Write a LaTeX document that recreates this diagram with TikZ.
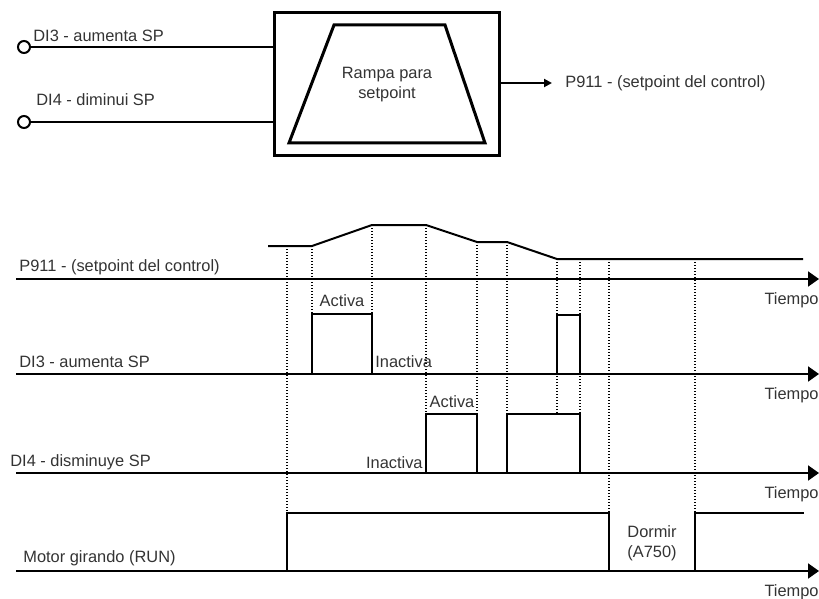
\documentclass[tikz,border=0pt]{standalone}
\usepackage{fontspec}
\setmainfont{Liberation Sans}
\usetikzlibrary{arrows.meta, positioning, calc}
\definecolor{textgrau}{HTML}{333333}

\begin{document}
\begin{tikzpicture}[x=0.5pt, y=-0.5pt,
    txt/.style={font=\fontsize{8.2}{10}\selectfont, text=textgrau, inner sep=0pt},
    signal/.style={line width=1pt, line join=miter},
    rahmen/.style={line width=1.5pt, line join=miter},
    hilfslinie/.style={line width=0.9pt, dash pattern=on 0.7pt off 0.8pt},
    zeitachse/.style={line width=1pt, -{Triangle[length=5.5pt, width=7.5pt]}},
    eingang/.style={circle, draw, line width=1pt, minimum size=6pt, inner sep=0pt}]
        \useasboundingbox (0,0) rectangle (819,599);
        % Blockschaltbild oben
        \node[rahmen, draw, minimum width=112.5pt, minimum height=71pt] (block) at (386.5,84) {};
        \draw[rahmen] (334,25) -- (445,25) -- (485,143) -- (289,143) -- cycle;
        \node[txt, align=center] (rampe) at (387,85) {Rampa para\\setpoint};
        \node[eingang] (di3) at (24,47) {};
        \node[eingang] (di4) at (24,122) {};
        \draw[signal] (di3.east) -- (di3.east -| block.west);
        \draw[signal] (di4.east) -- (di4.east -| block.west);
        \node[txt, anchor=base west] (di3text) at (33,42) {DI3 - aumenta SP};
        \node[txt, anchor=base west] (di4text) at (36,105) {DI4 - diminui SP};
        \node[txt, anchor=west, inner xsep=6.5pt] (ausgang) at (552,83) {P911 - (setpoint del control)};
        \draw[signal, -{Triangle[length=4pt, width=4pt]}] (block.east |- ausgang.west) -- (ausgang.west);
        % Zeitachsen
        \foreach \y in {279, 374, 473, 571}{
          \draw[zeitachse] (16,\y) -- (819,\y);
          \node[txt, anchor=base east] (tiempo\y) at (819,\y+25) {Tiempo};
        }
        \node[txt, anchor=base west] (spname) at (19,271) {P911 - (setpoint del control)};
        \node[txt, anchor=base west] (di3name) at (19,367) {DI3 - aumenta SP};
        \node[txt, anchor=base west] (di4name) at (10,466) {DI4 - disminuye SP};
        \node[txt, anchor=base west] (runname) at (23,562) {Motor girando (RUN)};
        % Hilfslinien (gepunktet)
        \foreach \x/\a/\b in {287/246/513, 312/246/314, 372/225/314, 426/225/414, 477/242/414,
                              507/242/414, 557/259/414, 580/259/414, 609/259/513, 695/259/513}{
          \draw[hilfslinie] (\x,\a) -- (\x,\b);
        }
        % Verlauf Sollwert
        \draw[signal] (268,246) -- (312,246) -- (372,225) -- (426,225) -- (477,242)
                      -- (507,242) -- (557,259) -- (803,259);
        % DI3
        \draw[signal] (312,374) |- (372,314) -- (372,374);
        \draw[signal] (557,374) |- (580,315) -- (580,374);
        % DI4
        \draw[signal] (426,473) |- (477,414) -- (477,473);
        \draw[signal] (507,473) |- (580,414) -- (580,473);
        % RUN
        \draw[signal] (287,571) |- (609,513) -- (609,571);
        \draw[signal] (695,571) |- (804,513);
        % Beschriftungen
        \node[txt, anchor=base] (aktiv3) at (342,306) {Activa};
        \node[txt, anchor=base west] (inaktiv3) at (375,367) {Inactiva};
        \node[txt, anchor=base] (aktiv4) at (452,407) {Activa};
        \node[txt, anchor=base east] (inaktiv4) at (423,468) {Inactiva};
        \node[txt, align=center] (dormir) at (652,543) {Dormir\\(A750)};
      \end{tikzpicture}
\end{document}
